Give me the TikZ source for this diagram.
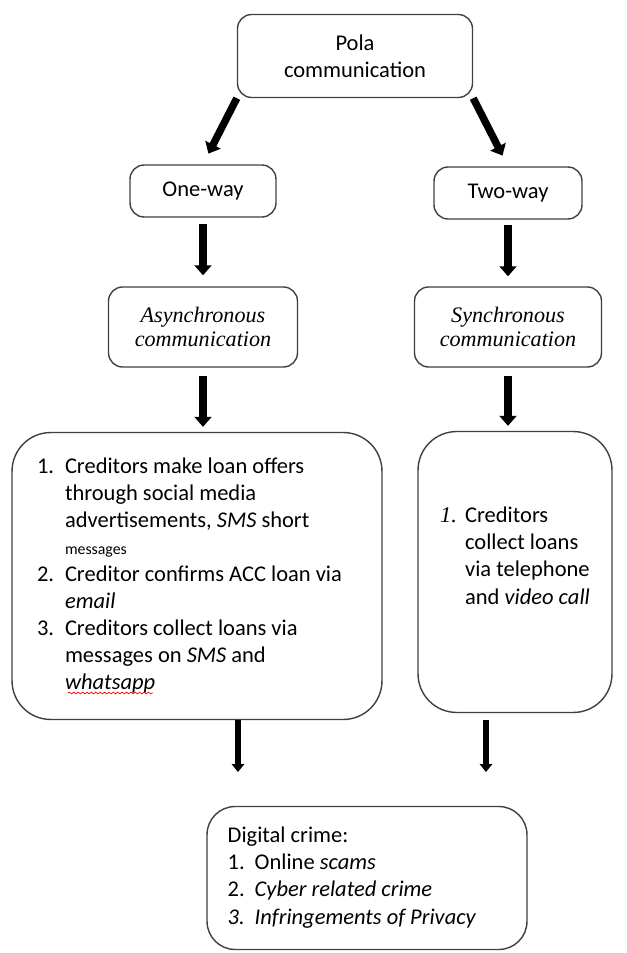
\documentclass[tikz,border=0pt]{standalone}
\usepackage{fontspec}
\setmainfont{Carlito}
\newfontfamily\serifface{Liberation Serif}
\usetikzlibrary{arrows.meta,decorations.pathmorphing}

\begin{document}
\begin{tikzpicture}[
        x=0.02cm, y=-0.02cm,
        box/.style={
            draw=black!75,
            thick,
            fill=white,
            rounded corners=8pt,
            align=center,
            inner sep=0pt,
            font=\fontsize{12.8}{15.4}\selectfont,
        },
        bigbox/.style={
            box,
            rounded corners=22pt,
        },
        fat/.style={
            -{Triangle[width=9.6pt,length=5.7pt]},
            line width=4.2pt,
        },
        slim/.style={
            -{Triangle[width=7pt,length=4.5pt]},
            line width=3.4pt,
        },
    ]

    \useasboundingbox (0, 0) rectangle (626, 953);

    \node[box, minimum width=4.7cm, minimum height=1.66cm]  (pola)   at (355, 56)  {Pola\\communication};
    \node[box, minimum width=2.92cm, minimum height=1.04cm] (oneway) at (203, 191) {One-way};
    \node[box, minimum width=2.96cm, minimum height=1.04cm] (twoway) at (508, 193) {Two-way};

    \node[box, minimum width=3.78cm, minimum height=1.6cm, font=\fontsize{12.6}{13.5}\selectfont\serifface\itshape]
        (async) at (203, 327) {Asynchronous\\communication};
    \node[box, minimum width=3.74cm, minimum height=1.6cm, font=\fontsize{12.6}{13.5}\selectfont\serifface\itshape]
        (sync) at (508, 327) {Synchronous\\communication};

    \node[bigbox, minimum width=7.4cm, minimum height=5.74cm] (leftbox) at (197, 576) {%
        \begin{tabular}{@{}p{0.56cm}@{}l@{\hspace{0.3cm}}}
            1. & Creditors make loan offers\\
               & through social media\\
               & advertisements, \textit{SMS} short\\
               & {\small messages}\\
            2. & Creditor confirms ACC loan via\\
               & \textit{email}\\
            3. & Creditors collect loans via\\
               & messages on \textit{SMS} and\\
               & \textit{whatsapp}
        \end{tabular}};
    \node[bigbox, minimum width=3.88cm, minimum height=5.62cm] (rightbox) at (515, 572) {%
        \begin{tabular}{@{}p{0.5cm}@{}l@{}}
            {\serifface\itshape 1.} & Creditors\\
               & collect loans\\
               & via telephone\\
               & and \textit{video call}\\[0.56cm]
        \end{tabular}};

    \node[box, rounded corners=16pt, minimum width=6.4cm, minimum height=2.86cm] (crime) at (367, 878) {%
        \begin{tabular}{@{}p{0.54cm}@{}l@{\hspace{0.6cm}}}
            \multicolumn{2}{@{}l@{\hspace{0.6cm}}}{Digital crime:}\\
            1.          & Online \textit{scams}\\
            2.          & \textit{Cyber related crime}\\
            \textit{3.} & \textit{Infringements of Privacy}
        \end{tabular}};

    \draw[fat, shorten >=0.24cm] (pola.south west) -- (oneway.north);
    \draw[fat, shorten >=0.24cm] (pola.south east) -- (twoway.north);
    \draw[fat, shorten <=0.12cm, shorten >=0.22cm] (oneway) -- (async);
    \draw[fat, shorten <=0.1cm, shorten >=0.2cm] (twoway) -- (sync);
    \draw[fat, shorten <=0.16cm, shorten >=0.1cm] (async.south) -- (async.south |- leftbox.north);
    \draw[fat, shorten <=0.16cm, shorten >=0.1cm] (sync.south) -- (sync.south |- rightbox.north);

    \coordinate (lend) at (238, 772);
    \coordinate (rend) at (486, 772);
    \draw[slim] (leftbox.south -| lend) -- (lend);
    \draw[slim, shorten <=0.14cm] (rightbox.south -| rend) -- (rend);

    \draw[red, decorate, decoration={snake, amplitude=0.5pt, segment length=2.5pt}] (68, 693) -- (153, 693);

\end{tikzpicture}
\end{document}
